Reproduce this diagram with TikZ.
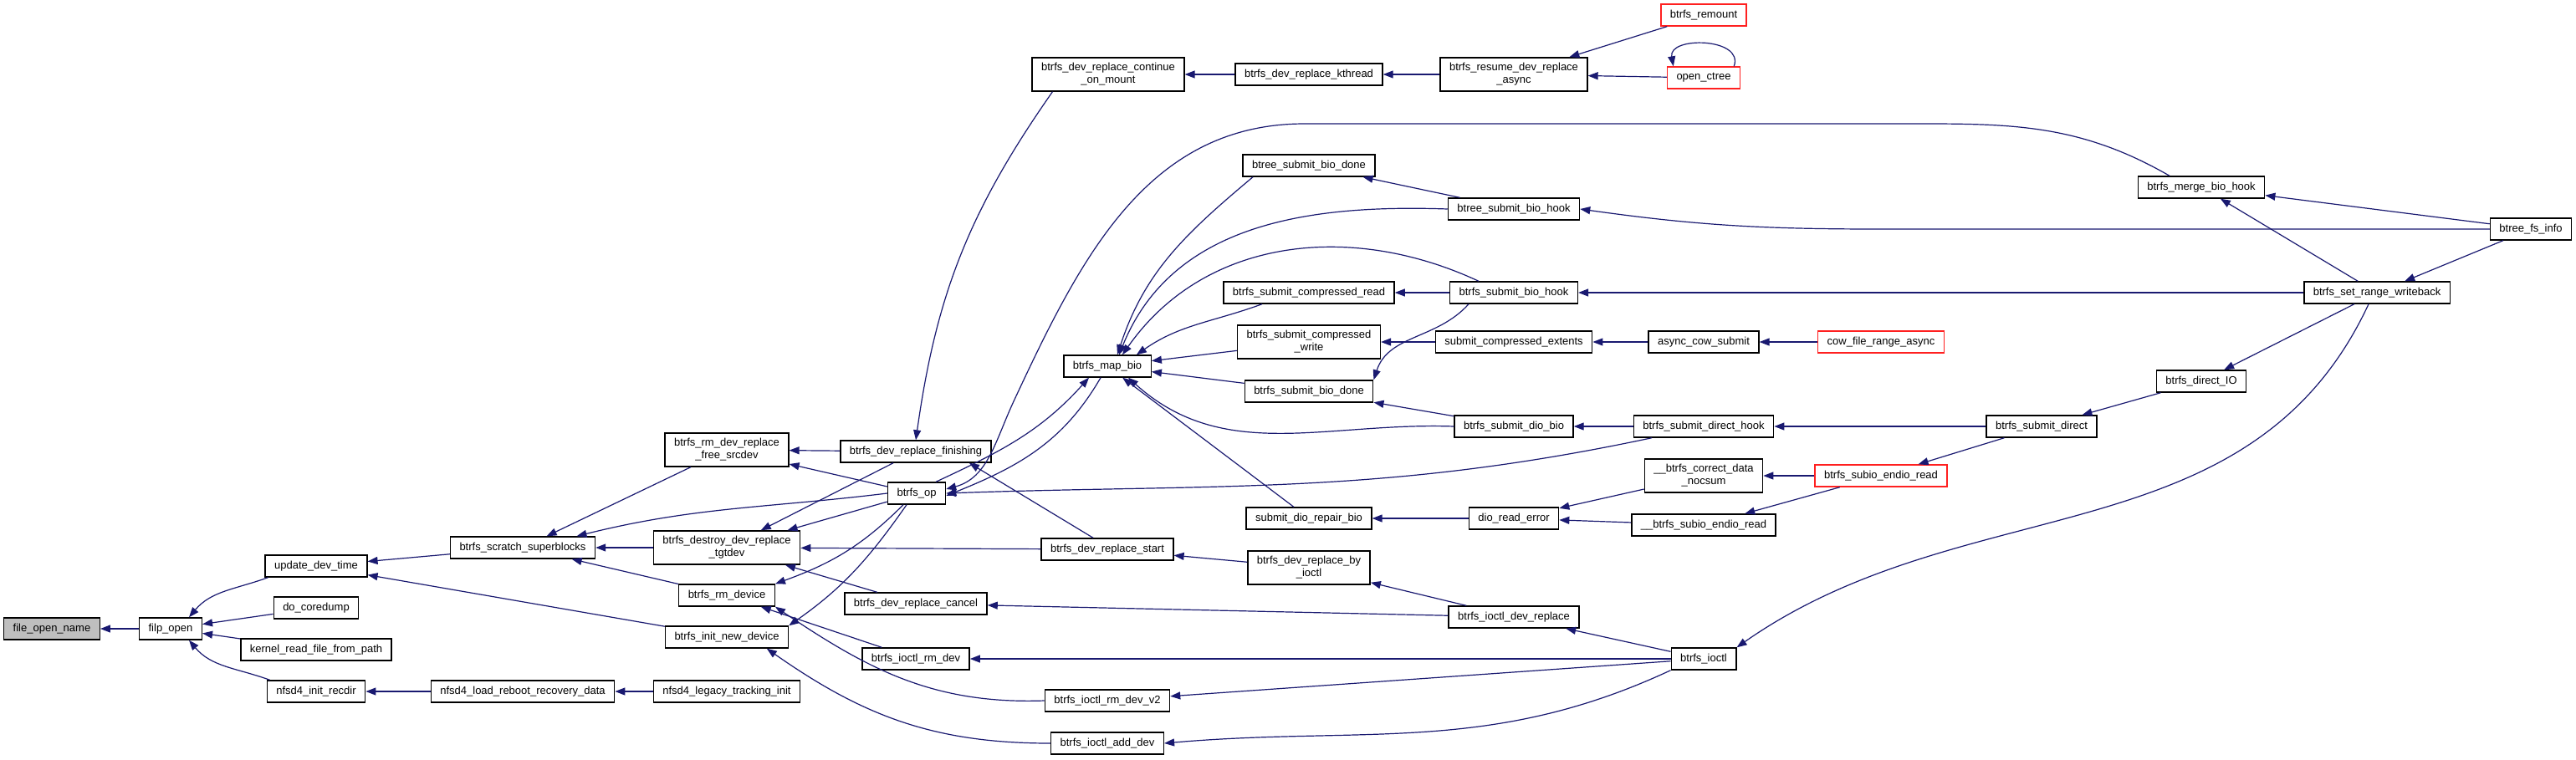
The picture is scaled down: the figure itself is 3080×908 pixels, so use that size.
\documentclass[tikz,border=0pt]{standalone}
\usepackage{fontspec}
\setmainfont{Liberation Sans}
\usepackage{tikz}
\usetikzlibrary{arrows.meta}
\definecolor{edgeblue}{HTML}{191970}
\definecolor{focusgray}{HTML}{BFBFBF}
\definecolor{truncred}{HTML}{FF2020}
\begin{document}
\begin{tikzpicture}[x=1pt, y=1pt, >={Triangle[length=12pt,width=9pt]},
 fn/.style={draw=black, line width=1.4pt, fill=white, inner xsep=11pt, inner ysep=6.5pt, minimum height=26pt, align=center, font=\fontsize{13}{15}\selectfont},
 fntrunc/.style={fn, draw=truncred},
 call/.style={->, draw=edgeblue, fill=none, line width=1.2pt}]
\useasboundingbox (0,0) rectangle (3080,-908);
\node[fn, fill=focusgray] (fon) at (62,-752) {file\_open\_name};
\node[fn] (filp)    at (204,-752)  {filp\_open};
\node[fn] (udt)     at (378,-677)  {update\_dev\_time};
\node[fn] (core)    at (378,-727)  {do\_coredump};
\node[fn] (krf)     at (378,-777)  {kernel\_read\_file\_from\_path};
\node[fn] (recdir)  at (378,-827)  {nfsd4\_init\_recdir};
\node[fn] (scratch) at (625,-655)  {btrfs\_scratch\_superblocks};
\node[fn] (loadrr)  at (625,-827)  {nfsd4\_load\_reboot\_recovery\_data};
\node[fn] (freesrc) at (869,-538)  {btrfs\_rm\_dev\_replace\\\_free\_srcdev};
\node[fn] (destroy) at (869,-655)  {btrfs\_destroy\_dev\_replace\\\_tgtdev};
\node[fn] (rmdev)   at (869,-712)  {btrfs\_rm\_device};
\node[fn] (initnew) at (869,-762)  {btrfs\_init\_new\_device};
\node[fn] (legacy)  at (869,-827)  {nfsd4\_legacy\_tracking\_init};
\node[fn] (finish)  at (1095,-540) {btrfs\_dev\_replace\_finishing};
\node[fn] (op)      at (1096,-590) {btrfs\_op};
\node[fn] (cancel)  at (1095,-722) {btrfs\_dev\_replace\_cancel};
\node[fn] (ioctlrm) at (1095,-788) {btrfs\_ioctl\_rm\_dev};
\node[fn] (contmnt) at (1325,-89)  {btrfs\_dev\_replace\_continue\\\_on\_mount};
\node[fn] (mapbio)  at (1324,-438) {btrfs\_map\_bio};
\node[fn] (start)   at (1324,-657) {btrfs\_dev\_replace\_start};
\node[fn] (rmv2)    at (1324,-838) {btrfs\_ioctl\_rm\_dev\_v2};
\node[fn] (adddev)  at (1324,-889) {btrfs\_ioctl\_add\_dev};
\node[fn] (kthread) at (1565,-89)  {btrfs\_dev\_replace\_kthread};
\node[fn] (btdone)  at (1565,-198) {btree\_submit\_bio\_done};
\node[fn] (cread)   at (1565,-350) {btrfs\_submit\_compressed\_read};
\node[fn] (cwrite)  at (1565,-409) {btrfs\_submit\_compressed\\\_write};
\node[fn] (biodone) at (1565,-468) {btrfs\_submit\_bio\_done};
\node[fn] (repair)  at (1565,-620) {submit\_dio\_repair\_bio};
\node[fn] (byioctl) at (1565,-679) {btrfs\_dev\_replace\_by\\\_ioctl};
\node[fn] (resume)  at (1810,-89)  {btrfs\_resume\_dev\_replace\\\_async};
\node[fn] (bthook)  at (1810,-250) {btree\_submit\_bio\_hook};
\node[fn] (biohook) at (1810,-350) {btrfs\_submit\_bio\_hook};
\node[fn] (cext)    at (1810,-409) {submit\_compressed\_extents};
\node[fn] (diobio)  at (1810,-510) {btrfs\_submit\_dio\_bio};
\node[fn] (dioerr)  at (1810,-620) {dio\_read\_error};
\node[fn] (ioctldr) at (1810,-738) {btrfs\_ioctl\_dev\_replace};
\node[fntrunc] (remount) at (2037,-18) {btrfs\_remount};
\node[fntrunc] (openct)  at (2037,-93) {open\_ctree};
\node[fn] (acow)    at (2037,-409) {async\_cow\_submit};
\node[fn] (dhook)   at (2037,-510) {btrfs\_submit\_direct\_hook};
\node[fn] (nocsum)  at (2037,-569) {\_\_btrfs\_correct\_data\\\_nocsum};
\node[fn] (subio)   at (2037,-628) {\_\_btrfs\_subio\_endio\_read};
\node[fn] (ioctl)   at (2037,-788) {btrfs\_ioctl};
\node[fntrunc] (cowasync) at (2249,-409) {cow\_file\_range\_async};
\node[fntrunc] (endio)    at (2249,-569) {btrfs\_subio\_endio\_read};
\node[fn] (sdirect) at (2441,-510) {btrfs\_submit\_direct};
\node[fn] (merge)   at (2632,-224) {btrfs\_merge\_bio\_hook};
\node[fn] (dio)     at (2632,-456) {btrfs\_direct\_IO};
\node[fn] (setrw)   at (2842,-350) {btrfs\_set\_range\_writeback};
\node[fn] (fsinfo)  at (3026,-274) {btree\_fs\_info};
\foreach \a/\b in {filp/fon, core/filp, krf/filp, scratch/udt, initnew/udt, loadrr/recdir, legacy/loadrr,
  freesrc/scratch, destroy/scratch, rmdev/scratch, finish/freesrc, op/freesrc, finish/destroy, op/destroy,
  start/destroy, cancel/destroy, ioctlrm/rmdev, kthread/contmnt, resume/kthread, remount/resume, openct/resume,
  cwrite/mapbio, biodone/mapbio, repair/mapbio, bthook/btdone, biohook/cread, cext/cwrite, acow/cext,
  cowasync/acow, setrw/biohook, fsinfo/merge, setrw/merge, fsinfo/setrw, setrw/dio, dio/sdirect, sdirect/dhook,
  sdirect/endio, endio/nocsum, endio/subio, dhook/diobio, diobio/biodone, nocsum/dioerr, subio/dioerr,
  dioerr/repair, byioctl/start, ioctldr/byioctl, ioctldr/cancel, ioctl/ioctldr, ioctl/ioctlrm, ioctl/rmv2}
  \draw[call] (\a) -- (\b);
\draw[call] ([xshift=4pt]udt.south west) to[out=200,in=50] ([xshift=22pt]filp.north);
\draw[call] ([xshift=4pt]recdir.north west) to[out=160,in=-50] ([xshift=22pt]filp.south);
\draw[call] (op.west) to[out=187,in=14] (scratch.12);
\draw[call] ([xshift=-16pt]op.south) to[out=225,in=20] (rmdev.north east);
\draw[call] ([xshift=-12pt]op.south) to[out=235,in=35] (initnew.north east);
\draw[call] (rmv2.west) to[out=182,in=-34] (rmdev.south east);
\draw[call] (adddev.west) to[out=180,in=-35] (initnew.-16);
\draw[call] ([xshift=25pt]contmnt.south west) to[out=235,in=82] (finish.north);
\draw[call] ([xshift=-17pt]start.north) -- ([xshift=-27pt]finish.south east);
\draw[call] ([xshift=-8pt]mapbio.south) to[out=240,in=22] ([yshift=-3pt]op.east);
\draw[call] ([xshift=23pt]op.north) to[out=25,in=228] ([xshift=-22pt]mapbio.south);
\draw[call] ([xshift=-38pt]merge.north) to[out=150,in=0] (2267,-148) -- (1560,-148)
  to[out=180,in=65] (1212,-480) to[out=245,in=15] ([yshift=5pt]op.east);
\draw[call] ([xshift=-62pt]dhook.south) to[out=192,in=2] (op.east);
\draw[call] ([xshift=-67pt]btdone.south) to[out=220,in=72] ([xshift=12pt]mapbio.north);
\draw[call] (bthook.west) to[out=178,in=68] ([xshift=14pt]mapbio.north);
\draw[call] ([xshift=-42pt]biohook.north) to[out=155,in=55] ([xshift=18pt]mapbio.north);
\draw[call] ([xshift=-56pt]cread.south) to[out=200,in=35] ([xshift=-18pt]mapbio.north east);
\draw[call] (diobio.west) to[out=178,in=-42] ([xshift=25pt]mapbio.south);
\draw[call] ([xshift=-54pt]biohook.south) to[out=228,in=72] (biodone.north east);
\draw[call] ([xshift=-8pt]openct.north east) to[out=70,in=100,looseness=1.3] ([xshift=8pt]openct.north west);
\draw[call] (fsinfo.west) -- ++(-730,0) to[out=180,in=-8] (bthook.east);
\draw[call] ([xshift=-10pt]setrw.south) to[out=245,in=35] (ioctl.north east);
\draw[call] (ioctl.south west) to[out=205,in=5] (adddev.east);
\end{tikzpicture}
\end{document}
